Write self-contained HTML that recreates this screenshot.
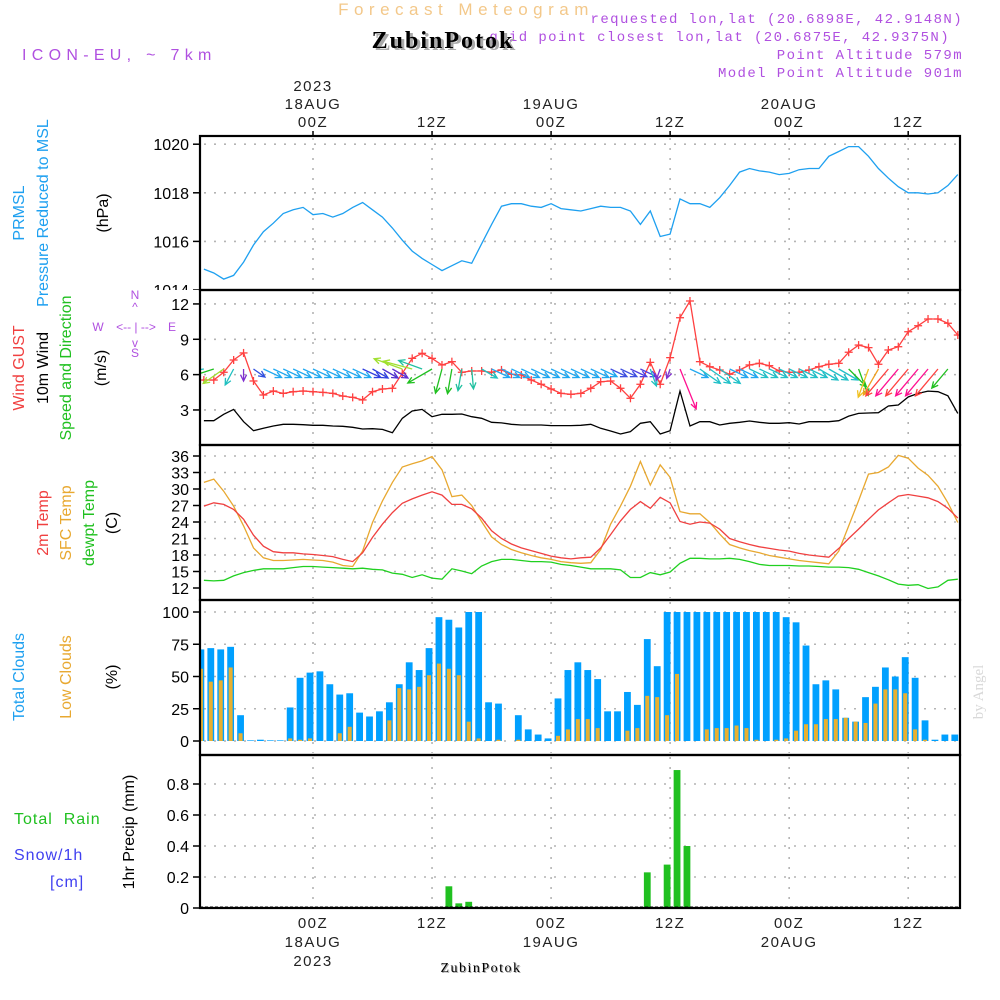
<!DOCTYPE html>
<html><head><meta charset="utf-8">
<style>
html,body{margin:0;padding:0;background:#fff;}
svg{display:block;font-family:"Liberation Sans",sans-serif;}
</style></head>
<body>
<svg id="chart" width="1000" height="1000" viewBox="0 0 1000 1000" xmlns="http://www.w3.org/2000/svg">
  <rect width="1000" height="1000" fill="#fff"/>
  <text x="466" y="15" text-anchor="middle" font-size="17" fill="#f3c88a" letter-spacing="5.5">Forecast Meteogram</text>
  <text x="963" y="23" text-anchor="end" font-size="14" fill="#b050e0" letter-spacing="1.4" font-family="Liberation Mono, monospace">requested lon,lat (20.6898E, 42.9148N)</text>
  <text x="950" y="41" text-anchor="end" font-size="14" fill="#b050e0" letter-spacing="1.4" font-family="Liberation Mono, monospace">grid point closest lon,lat (20.6875E, 42.9375N)</text>
  <text x="446" y="50" text-anchor="middle" font-size="24" font-weight="bold" fill="#aaa" font-family="Liberation Serif, serif" letter-spacing="2">ZubinPotok</text>
  <text x="443" y="48" text-anchor="middle" font-size="24" font-weight="bold" fill="#000" font-family="Liberation Serif, serif" letter-spacing="2">ZubinPotok</text>
  <text x="963" y="59" text-anchor="end" font-size="14" fill="#b050e0" letter-spacing="1.4" font-family="Liberation Mono, monospace">Point Altitude 579m</text>
  <text x="963" y="77" text-anchor="end" font-size="14" fill="#b050e0" letter-spacing="1.4" font-family="Liberation Mono, monospace">Model Point Altitude 901m</text>
  <text x="22" y="60" font-size="16" fill="#b050e0" letter-spacing="5.3">ICON-EU, ~ 7km</text>

  <g font-size="16">
    <text transform="translate(24,213) rotate(-90)" text-anchor="middle" fill="#1ea0f0">PRMSL</text>
    <text transform="translate(48,213) rotate(-90)" text-anchor="middle" fill="#1ea0f0">Pressure Reduced to MSL</text>
    <text transform="translate(108,213) rotate(-90)" text-anchor="middle" fill="#000">(hPa)</text>
    <text transform="translate(24,368) rotate(-90)" text-anchor="middle" fill="#f04040">Wind GUST</text>
    <text transform="translate(48,368) rotate(-90)" text-anchor="middle" fill="#000">10m Wind</text>
    <text transform="translate(71,368) rotate(-90)" text-anchor="middle" fill="#20c020">Speed and Direction</text>
    <text transform="translate(106,368) rotate(-90)" text-anchor="middle" fill="#000">(m/s)</text>
    <text transform="translate(48,523) rotate(-90)" text-anchor="middle" fill="#f04040">2m Temp</text>
    <text transform="translate(71,523) rotate(-90)" text-anchor="middle" fill="#e8a830">SFC Temp</text>
    <text transform="translate(94,523) rotate(-90)" text-anchor="middle" fill="#20c020">dewpt Temp</text>
    <text transform="translate(117,523) rotate(-90)" text-anchor="middle" fill="#000">(C)</text>
    <text transform="translate(24,677) rotate(-90)" text-anchor="middle" fill="#1ea0f0">Total Clouds</text>
    <text transform="translate(71,677) rotate(-90)" text-anchor="middle" fill="#e8a830">Low Clouds</text>
    <text transform="translate(117,677) rotate(-90)" text-anchor="middle" fill="#000">(%)</text>
    <text transform="translate(134,832) rotate(-90)" text-anchor="middle" fill="#000">1hr Precip (mm)</text>
    <text x="14" y="824" fill="#20c020" letter-spacing="1" xml:space="preserve">Total  Rain</text>
    <text x="14" y="860" fill="#4040f0" letter-spacing="1">Snow/1h</text>
    <text x="50" y="887" fill="#4040f0" letter-spacing="1">[cm]</text>
  </g>
  <g fill="#b050e0" font-size="12" text-anchor="middle">
    <text x="135" y="299">N</text><text x="135" y="311">^</text>
    <text x="98" y="331">W</text><text x="136" y="331">&lt;-- | --&gt;</text><text x="172" y="331">E</text>
    <text x="135" y="347">v</text><text x="135" y="357">S</text>
  </g>
  <text transform="translate(983,692) rotate(-90)" text-anchor="middle" font-size="15" fill="#d8d8d8" font-family="Liberation Serif, serif">by Angel</text>
  <g id="plot"></g>
</svg>
<script>
const hours = [];
for (let h = -11; h <= 65; h++) hours.push(h);
const pressure = [1014.86,1014.7,1014.45,1014.6,1015.15,1015.85,1016.4,1016.75,1017.15,1017.3,1017.4,1017.1,1017.15,1017.0,1017.15,1017.4,1017.6,1017.3,1017.0,1016.55,1016.05,1015.6,1015.3,1015.05,1014.8,1015.0,1015.2,1015.1,1015.9,1016.7,1017.45,1017.55,1017.55,1017.45,1017.4,1017.55,1017.35,1017.3,1017.25,1017.35,1017.45,1017.4,1017.4,1017.25,1016.7,1017.25,1016.2,1016.3,1017.75,1017.55,1017.55,1017.4,1017.8,1018.3,1018.85,1019.0,1018.9,1018.85,1018.75,1018.8,1018.95,1019.0,1019.0,1019.5,1019.7,1019.9,1019.9,1019.5,1019.0,1018.6,1018.25,1018.0,1018.0,1017.95,1018.0,1018.3,1018.75];
const gust = [5.54,5.54,6.2,7.24,7.84,5.46,4.27,4.61,4.41,4.55,4.61,4.55,4.49,4.41,4.18,4.07,3.85,4.55,4.78,4.84,6.11,7.38,7.81,7.38,6.82,7.1,6.2,6.31,6.31,6.2,6.4,6.03,5.97,5.54,5.18,4.78,4.41,4.33,4.41,4.84,5.4,5.46,4.84,3.99,5.18,7.04,5.18,7.44,10.83,12.25,7.1,6.67,6.39,6.03,6.39,6.82,6.96,6.76,6.31,6.2,6.2,6.39,6.67,6.88,6.96,7.9,8.51,8.29,6.88,8.09,8.37,9.64,10.15,10.72,10.72,10.36,9.36];
const wind10m = [2.09,2.09,2.63,3.05,2.0,1.24,1.44,1.64,1.78,1.78,1.75,1.7,1.7,1.64,1.61,1.53,1.38,1.41,1.35,1.07,2.29,2.91,3.05,2.43,2.63,2.63,2.66,2.43,2.29,1.95,1.9,1.78,1.72,1.72,1.72,1.67,1.67,1.67,1.7,1.78,1.44,1.21,0.96,1.16,1.87,2.0,0.96,1.24,4.6,1.64,2.0,2.0,1.72,1.87,1.95,2.06,1.95,1.87,1.87,1.92,1.81,2.0,2.0,2.0,2.09,2.48,2.71,2.74,2.77,3.34,3.42,4.1,4.41,4.6,4.55,4.2,2.71];
const windDir = [172,162,145,118,90,35,25,25,25,25,25,25,25,25,25,25,25,30,30,30,200,195,200,150,105,100,100,85,30,25,25,25,25,25,25,25,25,25,25,25,25,25,25,25,25,70,110,110,68,25,35,35,35,25,25,25,25,25,25,25,25,25,30,30,30,45,70,110,120,130,130,130,130,130,130,130,-1];
const windLen = [18,25,25,18,12,14,20,20,20,20,20,20,20,20,20,20,20,18,18,18,30,30,25,28,25,25,22,20,18,20,20,20,20,20,20,20,20,20,20,20,18,18,18,18,18,18,12,10,43,20,25,25,25,20,20,20,20,20,20,20,20,20,22,22,22,25,28,30,30,35,35,35,35,35,35,25,0];
const arrowColors = ["#20c8c8","#20c020","#a0e030","#20c0c0","#8030d0","#3050e0","#20a8f0","#20a8f0","#20a8f0","#20a8f0","#20a8f0","#20a8f0","#20a8f0","#20a8f0","#20a8f0","#20a8f0","#3040e0","#3040e0","#5030d0","#6030d0","#a0e030","#a0e030","#20c0a0","#20c020","#20c020","#20c020","#20c0a0","#20c0a0","#20c0c0","#20a8f0","#20a8f0","#20a8f0","#20a8f0","#20a8f0","#20a8f0","#20a8f0","#20a8f0","#20a8f0","#20a8f0","#20a8f0","#20a8f0","#4050e0","#4050e0","#5040e0","#5040e0","#20c0c0","#8030d0","#8030d0","#ff1090","#20a8f0","#20c0c8","#20c0c8","#20c0c8","#20a8f0","#20a8f0","#20c0c8","#20c0c8","#20c0c8","#20c0c8","#20c0c8","#20c0c8","#20c0c8","#20c0c8","#20c0c8","#20c0c8","#20c020","#20c020","#f0c020","#f0a020","#ff4040","#ff1090","#ff4040","#ff1090","#ff1090","#ff4040","#20c020","#fff"];
const temp2m = [26.9,27.5,27.2,26.3,24.5,21.6,19.6,18.6,18.4,18.4,18.2,18.1,17.9,17.7,17.2,16.8,18.4,21.2,23.6,25.7,27.4,28.2,28.9,29.5,28.9,27.2,27.2,26.4,24.7,22.4,21.0,20.0,19.3,18.8,18.3,17.8,17.5,17.3,17.5,17.6,19.3,21.7,24.2,26.3,27.7,26.5,28.5,27.5,24.1,23.6,24.0,23.8,22.7,21.0,20.4,19.9,19.5,19.2,18.9,18.7,18.3,18.0,17.8,17.6,19.2,21.0,22.7,24.5,26.2,27.5,28.7,29.0,28.7,28.4,27.7,26.5,24.7];
const sfcTemp = [31.2,31.8,29.6,26.9,23.3,19.3,17.5,17.0,17.0,17.1,17.2,17.1,17.0,16.7,16.1,15.9,18.7,23.9,27.8,31.2,34.0,34.6,35.1,35.9,33.5,28.6,28.9,27.0,24.1,21.3,19.9,19.0,18.4,17.9,17.5,17.2,16.8,16.6,16.5,16.6,19.0,23.6,26.9,30.5,35.0,30.7,34.4,32.1,25.9,25.5,25.5,23.9,21.8,19.9,19.3,18.8,18.4,17.9,17.6,17.3,17.0,16.8,16.6,16.4,18.7,23.3,27.9,32.7,33.0,34.0,36.1,35.6,33.8,32.5,30.5,27.5,23.9];
const dewpt = [13.4,13.3,13.4,14.2,14.8,15.2,15.5,15.5,15.5,15.7,15.9,15.9,15.8,15.7,15.6,15.5,15.6,15.4,15.3,14.7,14.5,13.9,14.4,13.8,13.6,15.5,15.1,14.6,16.0,16.8,17.2,17.2,17.0,16.8,16.8,16.7,16.3,16.1,15.8,15.5,15.5,15.5,15.3,13.9,13.9,14.8,14.4,14.9,16.5,17.4,17.4,17.3,17.3,17.4,17.2,16.8,16.3,16.1,16.1,16.1,16.0,16.0,15.9,15.8,15.8,15.7,15.4,14.8,14.2,13.5,12.7,12.5,12.6,11.9,12.2,13.4,13.6];
const totalClouds = [71,72,71,73,20,0.5,1,0.5,0.5,26,49,53,54,44,36,37,22,19,23,30,44,61,55,72,96,94,88,100,100,30,29,0,20,9,5,2,33,55,61,55,48,23,23,38,28,79,58,100,100,100,100,100,100,100,100,100,100,100,100,96,92,74,44,47,40,18,15,34,42,57,50,65,49,16,1,5,5];
const lowClouds = [56,46,47,57,6,0,0,0,0,2,1,2,0,0,6,11,0,0,0,16,41,40,42,51,60,56,51,15,2,0,1,0,1,0,0,0,4,9,17,17,10,0,0,8,10,35,34,20,52,0,0,9,10,10,12,10,1,0,1,2,8,13,13,17,17,18,15,14,29,40,40,37,9,1,0,0,0];
const precipHours = [14,15,16,34,36,37,38];
const precipVals = [0.14,0.03,0.04,0.23,0.28,0.89,0.40];
const pTicks = [1014,1016,1018,1020];
const wTicks = [3,6,9,12];
const tTicks = [12,15,18,21,24,27,30,33,36];
const cTicks = [0,25,50,75,100];
const rTicks = [0,0.2,0.4,0.6,0.8];
const rTickLabels = ["0","0.2","0.4","0.6","0.8"];

const X0 = 200, X1 = 960;
const xH = h => 313 + 9.92 * h;
const yP = v => 290 - (v - 1014) * 24.3;
const yW = v => 445.3 - v * 11.78;
const yT = v => 588 - (v - 12) * 5.5;
const yC = v => 741 - v * 1.29;
const yR = v => 908 - v * 155;
const panels = [[136,290],[290,445],[445,600],[600,755],[755,908]];

const NS = "http://www.w3.org/2000/svg";
const root = document.getElementById("plot");
function mk(tag, attrs, parent) {
  const e = document.createElementNS(NS, tag);
  for (const k in attrs) e.setAttribute(k, attrs[k]);
  (parent || root).appendChild(e);
  return e;
}
const defs = mk("defs", {});
const cp = mk("clipPath", {id: "clipAll"}, defs);
mk("rect", {x: X0, y: 136, width: X1 - X0, height: 908 - 136}, cp);
const cp2 = mk("clipPath", {id: "clipP"}, defs);
mk("rect", {x: 100, y: 120, width: 100, height: 170}, cp2);

const grid = mk("g", {stroke: "#b4b4b4", "stroke-width": 1.6, "stroke-dasharray": "2,8"});


const vLines = [0, 12, 24, 36, 48, 60];
panels.forEach(p => {
  vLines.forEach(h => mk("line", {x1: xH(h), x2: xH(h), y1: p[0] + 2, y2: p[1] - 2}, grid));
});
function hgrid(ticks, f) {
  ticks.forEach(t => mk("line", {x1: X0 + 4, x2: X1 - 2, y1: f(t), y2: f(t)}, grid));
}
hgrid([1016,1018,1020], yP); hgrid(wTicks, yW); hgrid(tTicks.slice(1), yT);
hgrid(cTicks, yC); hgrid(rTicks.slice(1), yR);

function yAxis(ticks, labels, f, name, clip) {
  const g = mk("g", {"font-size": 16, fill: "#000", "text-anchor": "end"});
  if (clip) g.setAttribute("clip-path", clip);
  
  
  ticks.forEach((t, i) => {
    mk("line", {x1: 193, x2: 200, y1: f(t), y2: f(t), stroke: "#000", "stroke-width": 1.5}, g);
    const tx = mk("text", {x: 189, y: f(t) + 6}, g);
    tx.textContent = labels[i];
  });
}
yAxis(pTicks, pTicks.map(String), yP, "pressure-axis", "url(#clipP)");
yAxis(wTicks, wTicks.map(String), yW, "wind-axis");
yAxis(tTicks, tTicks.map(String), yT, "temp-axis");
yAxis(cTicks, cTicks.map(String), yC, "cloud-axis");
yAxis(rTicks, rTickLabels, yR, "precip-axis");

const data = mk("g", {"clip-path": "url(#clipAll)"});
function line(vals, f, color, name, w) {
  const pts = vals.map((v, i) => xH(hours[i]).toFixed(1) + "," + f(v).toFixed(1)).join(" ");
  const e = mk("polyline", {points: pts, fill: "none", stroke: color, "stroke-width": w || 1.3}, data);
  
  
}
const cg = mk("g", {}, data);


hours.forEach((h, i) => {
  const cx = xH(h) - 3;
  const b = mk("rect", {x: cx - 3.4, y: yC(totalClouds[i]), width: 6.8, height: yC(0) - yC(totalClouds[i]), fill: "#00a0ff"}, cg);
  
  
  if (lowClouds[i] > 0) {
    const l = mk("rect", {x: cx - 2, y: yC(lowClouds[i]), width: 4, height: yC(0) - yC(lowClouds[i]), fill: "#e8b030"}, cg);
    
    
  }
});
const pg = mk("g", {}, data);


precipHours.forEach((h, i) => {
  const b = mk("rect", {x: xH(h) - 3 - 3.4, y: yR(precipVals[i]), width: 6.8, height: yR(0) - yR(precipVals[i]), fill: "#20c020"}, pg);
  
  
});
mk("line", {x1: X0, x2: X1, y1: 907, y2: 907, stroke: "#000", "stroke-width": 1, "stroke-dasharray": "3,2"}, data);

line(pressure, yP, "#1ea0f0", "pressure-line");
line(wind10m, yW, "#000", "wind10m-line");
line(gust, yW, "#ff4040", "gust-line");
const mg = mk("g", {stroke: "#ff4040", "stroke-width": 1.3}, data);


gust.forEach((v, i) => {
  const x = xH(hours[i]), y = yW(v);
  mk("line", {x1: x - 4, x2: x + 4, y1: y, y2: y}, mg);
  mk("line", {x1: x, x2: x, y1: y - 4, y2: y + 4}, mg);
});
const ag = mk("g", {"stroke-width": 1.3, fill: "none"}, data);


hours.forEach((h, i) => {
  if (windDir[i] < 0 || windLen[i] <= 0) return;
  const a = windDir[i] * Math.PI / 180, L = windLen[i];
  const x0 = xH(h), y0 = 369;
  const x1 = x0 + L * Math.cos(a), y1 = y0 + L * Math.sin(a);
  const c = arrowColors[i];
  const p = mk("path", {d: `M${x0},${y0}L${x1},${y1}M${x1 - 7 * Math.cos(a - 0.45)},${y1 - 7 * Math.sin(a - 0.45)}L${x1},${y1}L${x1 - 7 * Math.cos(a + 0.45)},${y1 - 7 * Math.sin(a + 0.45)}`, stroke: c}, ag);
  
  
});
line(sfcTemp, yT, "#e8a830", "sfc-temp-line");
line(temp2m, yT, "#f04040", "temp2m-line");
line(dewpt, yT, "#20d020", "dewpt-line");

panels.forEach(p => {
  const r = mk("rect", {x: X0, y: p[0], width: X1 - X0, height: p[1] - p[0], fill: "none", stroke: "#000", "stroke-width": 2.2});
  
  
});
const tg = mk("g", {"font-size": 15, fill: "#222", "text-anchor": "middle", "letter-spacing": 1.5});


const timeLabels = [[0,"00Z","18AUG","2023"],[12,"12Z"],[24,"00Z","19AUG"],[36,"12Z"],[48,"00Z","20AUG"],[60,"12Z"]];
timeLabels.forEach(t => {
  const x = xH(t[0]);
  const a = mk("text", {x: x, y: 127}, tg); a.textContent = t[1];
  const b = mk("text", {x: x, y: 928}, tg); b.textContent = t[1];
  mk("line", {x1: x, x2: x, y1: 131, y2: 136, stroke: "#000", "stroke-width": 1.5}, tg);
  if (t[2]) {
    const c = mk("text", {x: x, y: 109}, tg); c.textContent = t[2];
    const d = mk("text", {x: x, y: 947}, tg); d.textContent = t[2];
  }
  if (t[3]) {
    const e = mk("text", {x: x, y: 91}, tg); e.textContent = t[3];
    const f = mk("text", {x: x, y: 966}, tg); f.textContent = t[3];
  }
});
const bts = mk("text", {x: 482, y: 973, "text-anchor": "middle", "font-size": 14, fill: "#aaa", "font-family": "Liberation Serif, serif", "letter-spacing": 1.5});


bts.textContent = "ZubinPotok";
const bt = mk("text", {x: 481, y: 972, "text-anchor": "middle", "font-size": 14, fill: "#000", "font-family": "Liberation Serif, serif", "letter-spacing": 1.5});


bt.textContent = "ZubinPotok";
</script>
</body></html>
